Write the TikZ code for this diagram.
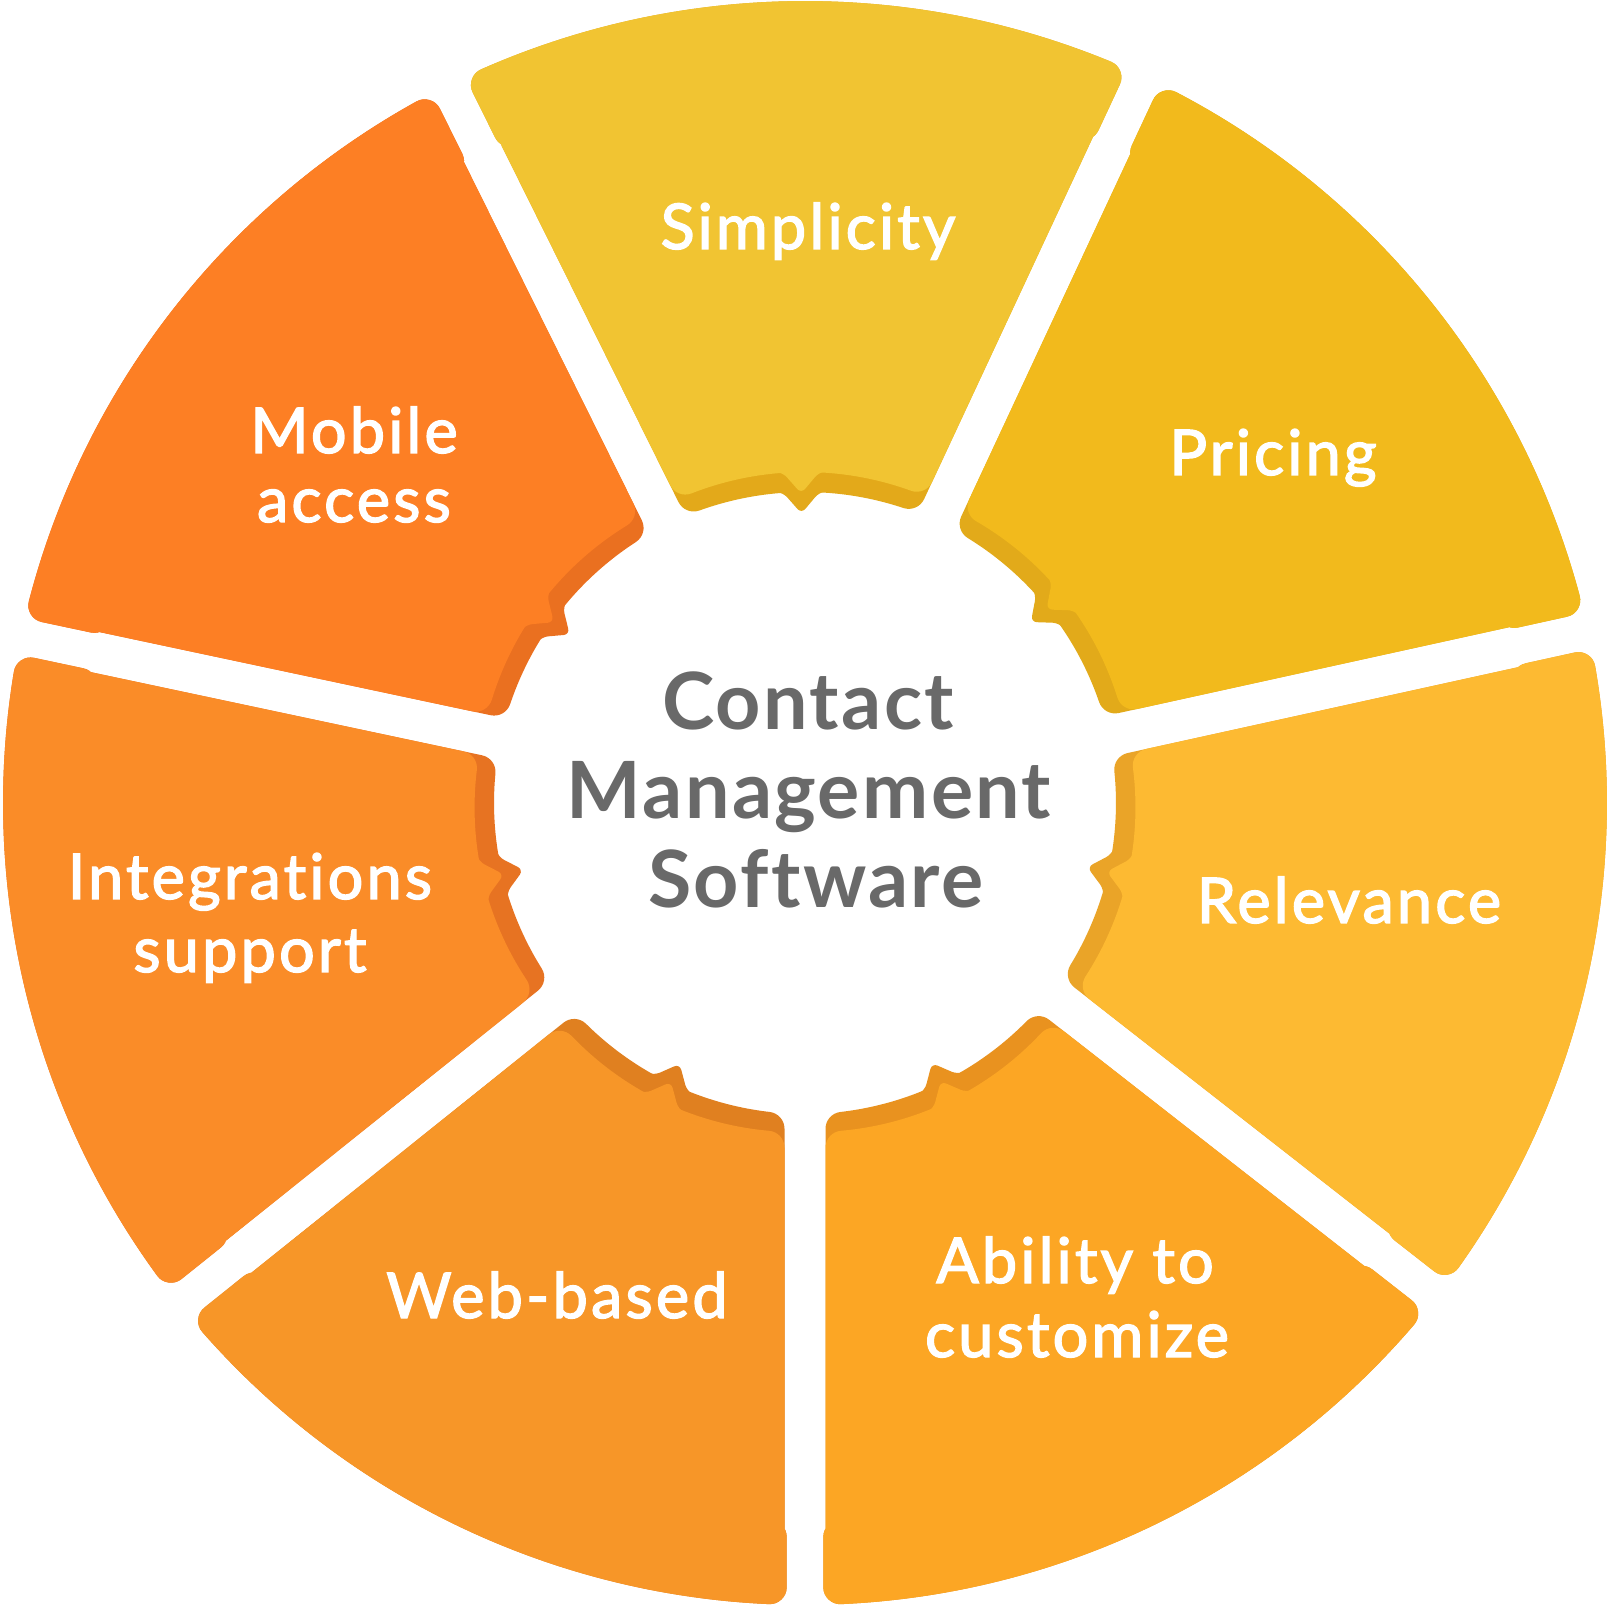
\documentclass[tikz,border=0pt]{standalone}
\usepackage{fontspec}
\setmainfont{Lato}[Ligatures={NoCommon}]
\newfontfamily\labfont{Lato}[Ligatures={NoCommon}, FakeBold=2.2, LetterSpace=5]
\newfontfamily\ctrfont{Lato}[Ligatures={NoCommon}, LetterSpace=3]
\definecolor{simL}{HTML}{F1C432}\definecolor{simD}{HTML}{E3A91A}
\definecolor{priL}{HTML}{F2BA1C}\definecolor{priD}{HTML}{E2AA1A}
\definecolor{relL}{HTML}{FDBA32}\definecolor{relD}{HTML}{EAA428}
\definecolor{abiL}{HTML}{FCA624}\definecolor{abiD}{HTML}{E9921F}
\definecolor{webL}{HTML}{F79628}\definecolor{webD}{HTML}{E08020}
\definecolor{intL}{HTML}{FA8C28}\definecolor{intD}{HTML}{E77322}
\definecolor{mobL}{HTML}{FD7F24}\definecolor{mobD}{HTML}{EA7020}
\definecolor{cgray}{HTML}{696969}
\def\RR{80.2}\def\RI{31.1}\def\HG{2.05}\def\ff{1.7}\def\DD{2.0}
\def\TS{73.4}\def\SD{0.22}
\newcommand\seglayer[4]{% half-span, shift, colour, notch offset
  \pgfmathsetmacro\Ro{\RR-\ff}%
  \pgfmathsetmacro\ri{\RI+\ff}%
  \pgfmathsetmacro\hh{\HG+\ff}%
  \pgfmathsetmacro\hb{\hh-\SD}%
  \pgfmathsetmacro\phT{#1-asin(\hb/\Ro)}%
  \pgfmathsetmacro\Ax{\TS*cos(#1)+\hb*sin(#1)}%
  \pgfmathsetmacro\Ay{\TS*sin(#1)-\hb*cos(#1)}%
  \pgfmathsetmacro\Bx{\TS*cos(#1)+\hh*sin(#1)}%
  \pgfmathsetmacro\By{\TS*sin(#1)-\hh*cos(#1)}%
  \pgfmathsetmacro\tP{#2*cos(#1)+sqrt(\ri*\ri-(\hh-#2*sin(#1))^2)}%
  \pgfmathsetmacro\Px{\tP*cos(#1)+\hh*sin(#1)}%
  \pgfmathsetmacro\Py{\tP*sin(#1)-\hh*cos(#1)}%
  \pgfmathsetmacro\psT{atan2(\Py,\Px-#2)}%
  \path[segbody=#3] (-\phT:\Ro) arc[start angle=-\phT, end angle=\phT, radius=\Ro]
     -- (\Ax,\Ay) -- (\Bx,\By)
     -- (\Px,\Py) arc[start angle=\psT, end angle=-\psT, radius=\ri]
     -- (\Bx,-\By) -- (\Ax,-\Ay) -- cycle;
  \begin{scope}[shift={(#2,0)}, rotate=#4]
    \fill[#3, rounded corners=6pt] (31.4,4.8) -- (31.05,1.8) -- (28.95,0)
       -- (31.05,-1.8) -- (31.4,-4.8) -- cycle;
  \end{scope}}
\newcommand\wseg[5]{% rotation, half-span, notch offset, light, dark
  \begin{scope}[rotate=#1]
    \seglayer{#2}{0}{#5}{#3}
    \seglayer{#2}{\DD}{#4}{#3}
  \end{scope}}
\tikzset{
  segbody/.style={fill=#1, draw=#1, line width=34pt, line join=round},
  lab/.style={text=white, font=\labfont\fontsize{63}{63}\selectfont, anchor=base, inner sep=0pt},
  ctr/.style={text=cgray, font=\ctrfont\bfseries\fontsize{79}{79}\selectfont, anchor=base, inner sep=0pt}
}
\begin{document}
\begin{tikzpicture}[x=10pt,y=10pt]
\useasboundingbox (-80.5,-80.2) rectangle (80.3,80.3);
\fill[white] (-80.5,-80.2) rectangle (80.3,80.3);
\wseg{90.7}{25.7}{0}{simL}{simD}
\wseg{38.7}{26.3}{0}{priL}{priD}
\wseg{-12.8}{25.2}{0}{relL}{relD}
\wseg{-64}{26}{0}{abiL}{abiD}
\wseg{-115.65}{25.65}{0}{webL}{webD}
\wseg{193.35}{25.35}{0}{intL}{intD}
\wseg{142.2}{25.8}{2.2}{mobL}{mobD}
\node[lab] (simp) at (0.3,55.4) {Simplicity};
\node[lab] (pric) at (46.8,32.8) {Pricing};
\node[lab] (rele) at (54.4,-12.0) {Relevance};
\node[lab] (abil1) at (27.0,-48.0) {Ability to};
\node[lab] (abil2) at (27.2,-55.4) {customize};
\node[lab] (webb) at (-24.8,-51.5) {Web-based};
\node[lab] (inte1) at (-55.5,-9.6) {Integrations};
\node[lab] (inte2) at (-55.5,-16.9) {support};
\node[lab] (mobi1) at (-45.1,35.0) {Mobile};
\node[lab] (mobi2) at (-45.1,28.1) {access};
\node[ctr] (cm1) at (0.3,7.3) {Contact};
\node[ctr] (cm2) at (0.4,-1.6) {Management};
\node[ctr] (cm3) at (1.1,-10.5) {Software};
\end{tikzpicture}
\end{document}
